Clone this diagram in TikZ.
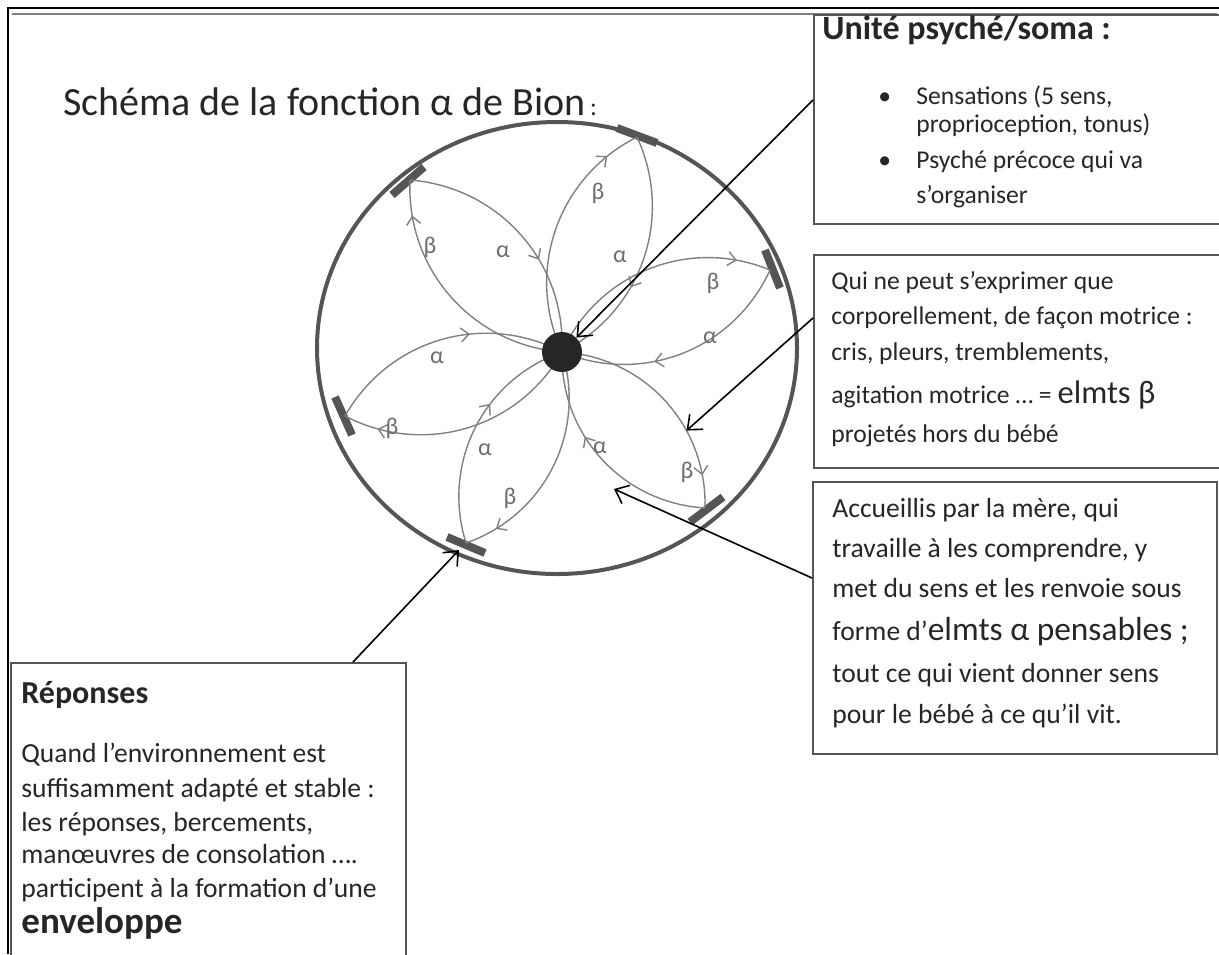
\documentclass[tikz,border=0pt]{standalone}
\usepackage{fontspec}
\setmainfont{Carlito}
\usetikzlibrary{arrows.meta,decorations.markings}
\definecolor{ink}{HTML}{262626}
\definecolor{rim}{HTML}{555555}
\definecolor{leaf}{HTML}{808080}

\tikzset{
  panel/.style={draw=rim, line width=1pt, inner sep=0pt, anchor=north west},
  txt/.style={anchor=base west, inner sep=0pt, text=ink},
  smalltxt/.style={txt, font=\fontsize{12.8}{14}\selectfont},
  bigtxt/.style={txt, font=\fontsize{13.8}{16}\selectfont},
  link/.style={draw=black, line width=0.8pt, -{Straight Barb[length=6pt,width=10pt]}},
  leafline/.style={draw=leaf, line width=0.7pt},
  betaarc/.style={leafline, postaction={decorate}, decoration={markings,
      mark=at position 0.86 with {\arrow{Straight Barb[length=4pt,width=7pt]}}}},
  alphaarc/.style={leafline, postaction={decorate}, decoration={markings,
      mark=at position 0.62 with {\arrow{Straight Barb[length=4pt,width=7pt]}}}},
  greek/.style={text=leaf!85!black, font=\fontsize{12}{12}\selectfont, inner sep=0pt},
  bar/.style={draw=rim, line width=4pt},
}

\begin{document}
\begin{tikzpicture}[x=0.5pt,y=-0.5pt]
  \useasboundingbox (0,0) rectangle (1219,954);
  \clip (0,0) rectangle (1219,954);

  % frame
  \draw[black, line width=1pt] (8,954) -- (8,8) -- (1219,8);
  \draw[gray, line width=1pt] (12,14) -- (1217,14);

  % title
  \node[txt] (title) at (63,115) {{\fontsize{20}{22}\selectfont Schéma de la fonction α de Bion}\ {\fontsize{12.8}{14}\selectfont :}};

  % boxes
  \node[panel, minimum width=210pt, minimum height=104.5pt] (box1) at (813,14) {};
  \node[panel, minimum width=210pt, minimum height=106.5pt] (box2) at (813,254) {};
  \node[panel, minimum width=202pt, minimum height=136pt] (box3) at (812,481) {};
  \node[panel, minimum width=197.5pt, minimum height=160pt] (box4) at (10,662) {};

  % box texts, one node per line
  \node[txt, font=\fontsize{17}{20}\selectfont\bfseries] (head1) at (822,39) {Unité psyché/soma :};
  \node[smalltxt] (dot1) at (878,104) {•};
  \node[smalltxt] (dot2) at (878,168) {•};
  \foreach \y/\s [count=\k] in {104/{Sensations (5 sens,}, 132/{proprioception, tonus)},
      168/Psyché précoce qui va, 203/s’organiser}
    \node[smalltxt] (u\k) at (916,\y) {\s};

  \foreach \y/\s [count=\k] in {289/Qui ne peut s’exprimer que, 324/{corporellement, de façon motrice :},
      360/{cris, pleurs, tremblements,},
      403/{agitation motrice … = {\fontsize{16.3}{18}\selectfont elmts β}},
      442/projetés hors du bébé}
    \node[smalltxt] (q\k) at (831,\y) {\s};

  \foreach \y/\s [count=\k] in {517/{Accueillis par la mère, qui}, 557/{travaille à les comprendre, y},
      597/met du sens et les renvoie sous,
      640/{forme d’{\fontsize{16.7}{20}\selectfont elmts α pensables ;}},
      682/tout ce qui vient donner sens, 723/pour le bébé à ce qu’il vit.}
    \node[bigtxt] (m\k) at (832,\y) {\s};

  \foreach \y/\s [count=\k] in {703/{\fontsize{16}{18}\selectfont\bfseries Réponses},
      762/Quand l’environnement est, 797/suffisamment adapté et stable :,
      831/{les réponses, bercements,}, 863/manœuvres de consolation ….,
      897/participent à la formation d’une,
      933/{\fontsize{18.5}{20}\selectfont\bfseries enveloppe}}
    \node[bigtxt] (r\k) at (21,\y) {\s};

  % the psyche/soma circle
  \draw[rim, line width=2pt] (557,348) ellipse [x radius=240, y radius=226];
  \draw[bar] (392,195) -- (424,167);
  \draw[bar] (617,128) -- (657,143);
  \draw[bar] (765,250) -- (780,288);
  \draw[bar] (690,522) -- (723,497);
  \draw[bar] (447,537) -- (485,553);
  \draw[bar] (335,397) -- (352,435);

  \coordinate (c) at (562,352);
  \coordinate (t1) at (410,180);
  \coordinate (t2) at (637,137);
  \coordinate (t3) at (770,270);
  \coordinate (t4) at (705,508);
  \coordinate (t5) at (466,543);
  \coordinate (t6) at (345,416);
  \coordinate (s5) at (459,550);
  \coordinate (hita) at (614,489);

  \foreach \i in {1,...,6}{
    \draw[betaarc] (c) to[bend left=44] (t\i);
    \draw[alphaarc] (t\i) to[bend left=44] (c);
  }
  \path (c) to[bend left=44] coordinate[pos=0.66] (hitb) (t4);

  \foreach \i/\bx/\by/\ax/\ay in {1/430/247/503/252, 2/598/193/620/257, 3/713/283/710/338,
      4/687/472/600/448, 5/510/498/485/450, 6/392/428/437/358}{
    \node[greek] (lb\i) at (\bx,\by) {β};
    \node[greek] (la\i) at (\ax,\ay) {α};
  }

  \node[circle, fill=ink, minimum size=20pt, inner sep=0pt] (dot) at (c) {};

  % pointers from the boxes
  \draw[link] ([yshift=-43pt]box1.north west) -- (dot);
  \draw[link] ([yshift=-32pt]box2.north west) -- (hitb);
  \draw[link] ([yshift=-48.5pt]box3.north west) -- (hita);
  \draw[link] ([xshift=171.5pt]box4.north west) -- (s5);
\end{tikzpicture}
\end{document}
